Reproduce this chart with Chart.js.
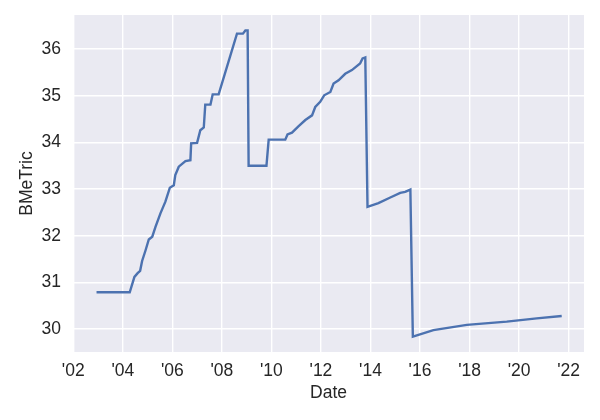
<!DOCTYPE html>
<html>
<head>
<meta charset="utf-8">
<script src="https://cdn.jsdelivr.net/npm/chart.js@4/dist/chart.umd.min.js"></script>
<style>
  html, body { margin: 0; padding: 0; background: #fff; }
  #wrap { width: 600px; height: 420px; position: relative; }
</style>
</head>
<body>
<div id="wrap"><canvas id="chart"></canvas></div>
<script>
// values (decimal years)
const years = [2002.94, 2004.28, 2004.47, 2004.60, 2004.70, 2004.78, 2004.92, 2005.05, 2005.19, 2005.32,
  2005.52, 2005.72, 2005.90, 2006.06, 2006.12, 2006.26, 2006.53, 2006.73, 2006.76, 2007.00,
  2007.13, 2007.27, 2007.33, 2007.54, 2007.63, 2007.87, 2008.61, 2008.85, 2008.95, 2009.04,
  2009.08, 2009.80, 2009.89, 2010.56, 2010.65, 2010.83, 2011.10, 2011.37, 2011.64, 2011.77,
  2011.97, 2012.13, 2012.38, 2012.51, 2012.71, 2012.98, 2013.25, 2013.58, 2013.68, 2013.79,
  2013.88, 2014.32, 2014.80, 2015.20, 2015.40, 2015.61, 2015.71, 2016.54, 2017.89, 2019.50,
  2020.71, 2021.72];
const bmetric = [30.79, 30.79, 31.12, 31.20, 31.25, 31.46, 31.69, 31.92, 31.98, 32.19,
  32.48, 32.73, 33.03, 33.08, 33.30, 33.48, 33.60, 33.62, 33.98, 33.99,
  34.26, 34.32, 34.81, 34.81, 35.03, 35.03, 36.33, 36.33, 36.40, 36.40,
  33.50, 33.50, 34.06, 34.06, 34.17, 34.21, 34.35, 34.48, 34.58, 34.76,
  34.87, 35.01, 35.08, 35.26, 35.33, 35.47, 35.55, 35.69, 35.80, 35.82,
  32.62, 32.70, 32.82, 32.92, 32.94, 32.99, 29.84, 29.98, 30.09, 30.16,
  30.23, 30.28];

const xTicks = [2002, 2004, 2006, 2008, 2010, 2012, 2014, 2016, 2018, 2020, 2022];
const xTickLabels = ["'02", "'04", "'06", "'08", "'10", "'12", "'14", "'16", "'18", "'20", "'22"];
const yTicks = [30, 31, 32, 33, 34, 35, 36];

const FONT = '"Liberation Sans", Arial, sans-serif';
const TXT = '#262626';

// seaborn-ish grey plot background
const bgPlugin = {
  id: 'plotBg',
  beforeDraw(chart) {
    const { ctx, chartArea: a } = chart;
    ctx.save();
    ctx.fillStyle = '#EAEAF2';
    ctx.fillRect(a.left, a.top, a.right - a.left, a.bottom - a.top);
    ctx.restore();
  }
};

new Chart(document.getElementById('chart'), {
  type: 'line',
  data: {
    datasets: [{
      label: 'BMeTric',
      data: years.map((y, i) => ({ x: y, y: bmetric[i] })),
      borderColor: '#4C72B0',
      borderWidth: 2.4,
      pointRadius: 0,
      tension: 0,
      fill: false
    }]
  },
  options: {
    responsive: true, maintainAspectRatio: false, animation: false,
    layout: { padding: { top: 15, right: 16, left: 0, bottom: 0 } },
    plugins: { legend: { display: false }, tooltip: { enabled: false } },
    scales: {
      x: {
        type: 'linear', min: 2001.99, max: 2022.62,
        afterBuildTicks: s => { s.ticks = xTicks.map(v => ({ value: v })); },
        afterFit: s => { s.height = 68; s.paddingLeft = 0; s.paddingRight = 0; },
        grid: { color: '#ffffff', lineWidth: 1.4, drawTicks: false },
        border: { display: false },
        ticks: {
          padding: 9, color: TXT, font: { family: FONT, size: 17.5 }, maxRotation: 0, autoSkip: false,
          callback: (v) => xTickLabels[xTicks.indexOf(v)]
        },
        title: { display: true, text: 'Date', color: TXT, font: { family: FONT, size: 17.5 }, padding: { top: 0, bottom: 16 } }
      },
      y: {
        min: 29.51, max: 36.73,
        afterBuildTicks: s => { s.ticks = yTicks.map(v => ({ value: v })); },
        afterFit: s => { s.width = 73; s.paddingTop = 0; s.paddingBottom = 0; },
        grid: { color: '#ffffff', lineWidth: 1.4, drawTicks: false },
        border: { display: false },
        ticks: { padding: 12, color: TXT, font: { family: FONT, size: 17.5 } },
        title: { display: true, text: 'BMeTric', color: TXT, font: { family: FONT, size: 17.5 }, padding: { top: 17, bottom: 0 } }
      }
    }
  },
  plugins: [bgPlugin]
});
</script>
</body>
</html>
